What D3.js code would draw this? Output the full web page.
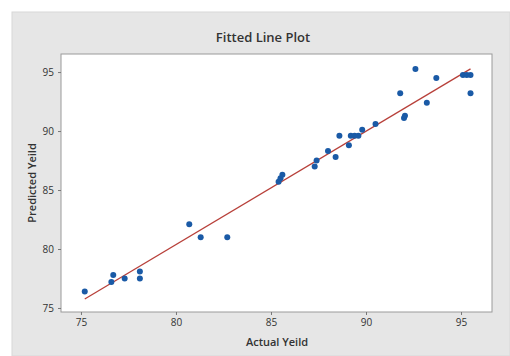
<!DOCTYPE html>
<html>
<head>
<meta charset="utf-8">
<script src="https://cdn.jsdelivr.net/npm/d3@7"></script>
<style>
  body { margin: 0; background: #fff; }
  svg text { font-family: "Open Sans", "Noto Sans", sans-serif; fill: #333; }
</style>
</head>
<body>
<svg id="chart" width="510" height="356"></svg>
<script>
// actual vs predicted yield
var actualYield = [75.2, 76.7, 76.6, 77.3, 78.1, 78.1, 80.7, 81.3, 82.7, 85.4, 85.5, 85.6,
    87.3, 87.4, 88.0, 88.4, 88.6, 89.1, 89.2, 89.4, 89.6, 89.8, 90.5, 91.8, 92.0, 92.05,
    92.6, 93.2, 93.7, 95.1, 95.3, 95.5, 95.5];
var predictedYield = [76.4, 77.8, 77.2, 77.5, 78.1, 77.5, 82.1, 81.0, 81.0, 85.7, 86.0, 86.3,
    87.0, 87.5, 88.3, 87.8, 89.6, 88.8, 89.6, 89.6, 89.6, 90.1, 90.6, 93.2, 91.1, 91.3,
    95.25, 92.4, 94.5, 94.75, 94.75, 94.75, 93.2];
var xTicks = [75, 80, 85, 90, 95];
var yTicks = [75, 80, 85, 90, 95];

var svg = d3.select('#chart');
var plot = { left: 61, top: 54, right: 492, bottom: 312 };

// gray frame like minitab
svg.append('rect')
    .attr('x', 12).attr('y', 12)
    .attr('width', 498).attr('height', 344)
    .attr('fill', '#e6e6e6')
    .attr('stroke', '#d8d8d8');

svg.append('rect')
    .attr('x', plot.left).attr('y', plot.top)
    .attr('width', plot.right - plot.left).attr('height', plot.bottom - plot.top)
    .attr('fill', '#fff')
    .attr('stroke', '#9a9a9a');

var x = d3.scaleLinear().domain([73.95, 96.63]).range([plot.left, plot.right]);
var y = d3.scaleLinear().domain([74.66, 96.53]).range([plot.bottom, plot.top]);

var xAx = d3.axisBottom(x).tickValues(xTicks).tickSize(3).tickPadding(4);
var yAx = d3.axisLeft(y).tickValues(yTicks).tickSize(3).tickPadding(4);

var gx = svg.append('g').attr('transform', `translate(0, ${plot.bottom})`).call(xAx);
var gy = svg.append('g').attr('transform', `translate(${plot.left}, 0)`).call(yAx);
[gx, gy].forEach(function(g){
    g.select('.domain').remove();
    g.selectAll('.tick line').attr('stroke', '#777');
    g.selectAll('.tick text').style('font-size', '10px').style('fill', '#333');
});

// least squares fit
var n = actualYield.length;
var mx = d3.mean(actualYield), my = d3.mean(predictedYield);
var sxy = 0, sxx = 0;
actualYield.forEach(function(v, i){
    sxy += (v - mx) * (predictedYield[i] - my);
    sxx += (v - mx) * (v - mx);
});
var slope = sxy / sxx, icpt = my - slope * mx;
var xr = d3.extent(actualYield);

svg.append('line')
    .attr('x1', x(xr[0])).attr('y1', y(icpt + slope * xr[0]))
    .attr('x2', x(xr[1])).attr('y2', y(icpt + slope * xr[1]))
    .attr('stroke', '#b8403a')
    .attr('stroke-width', 1.3);

svg.append('g').selectAll('circle')
    .data(actualYield)
    .enter().append('circle')
    .attr('cx', function(d){ return x(d); })
    .attr('cy', function(d, i){ return y(predictedYield[i]); })
    .attr('r', 3)
    .attr('fill', '#1a5aa6');

svg.append('text')
    .attr('x', 263).attr('y', 42)
    .attr('text-anchor', 'middle')
    .style('font-size', '13px').style('font-weight', 600)
    .text('Fitted Line Plot');

svg.append('text')
    .attr('x', 277).attr('y', 346)
    .attr('text-anchor', 'middle')
    .style('font-size', '11px').style('font-weight', 600)
    .text('Actual Yeild');

svg.append('text')
    .attr('transform', 'translate(36, 183) rotate(-90)')
    .attr('text-anchor', 'middle')
    .style('font-size', '11px').style('font-weight', 600)
    .text('Predicted Yeild');
</script>
</body>
</html>
